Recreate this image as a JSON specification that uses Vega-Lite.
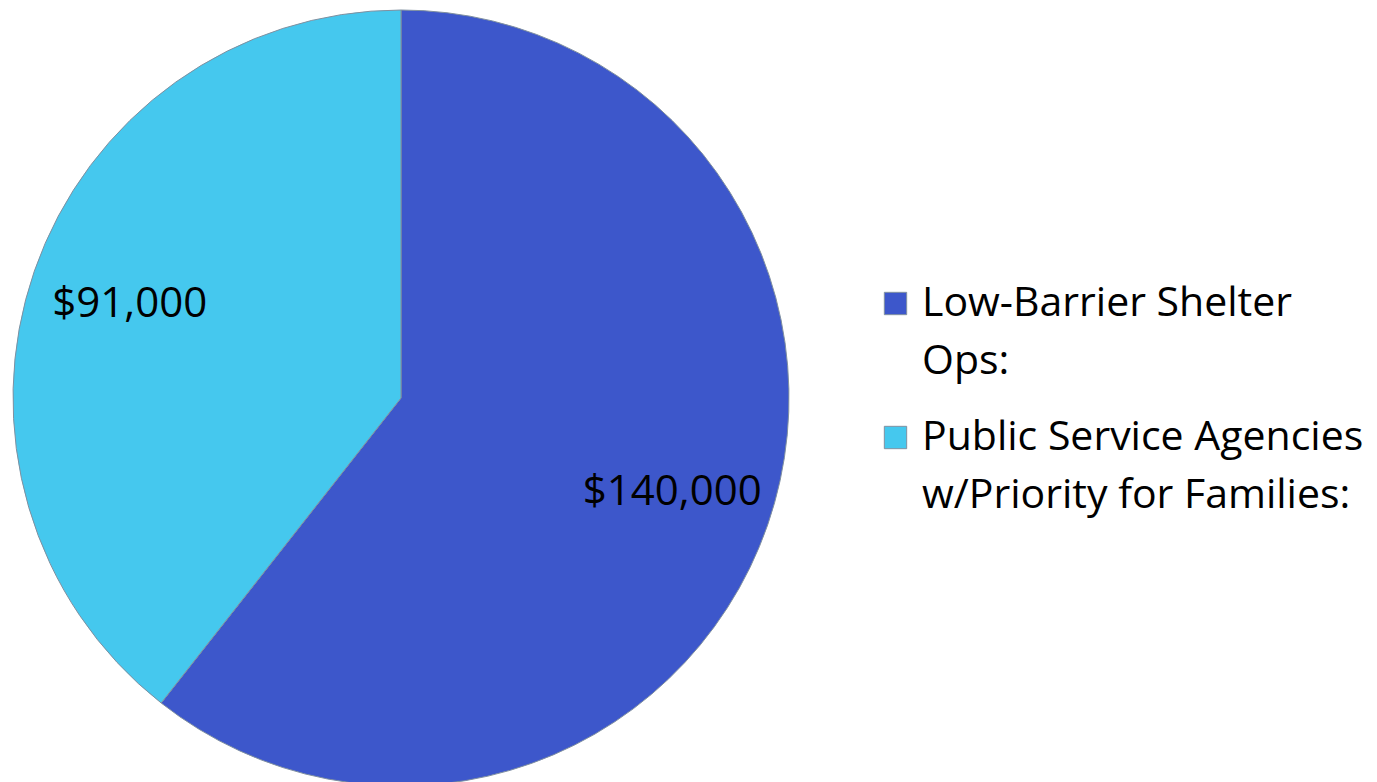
{
  "$schema": "https://vega.github.io/schema/vega-lite/v6.json",
  "width": 802,
  "height": 796,
  "autosize": {"type": "none"},
  "padding": {"left": 0, "top": 0, "right": 575, "bottom": 0},
  "background": "white",
  "config": {
    "view": {"stroke": null},
    "font": "Open Sans",
    "style": {"guide-label": {"lineHeight": 58}}
  },
  "data": {
    "values": [
      {"category": "Low-Barrier Shelter Ops:", "amount": 140000, "label": "$140,000"},
      {"category": "Public Service Agencies w/Priority for Families:", "amount": 91000, "label": "$91,000"}
    ]
  },
  "encoding": {
    "theta": {"field": "amount", "type": "quantitative", "stack": true},
    "color": {
      "field": "category",
      "type": "nominal",
      "sort": ["Low-Barrier Shelter Ops:", "Public Service Agencies w/Priority for Families:"],
      "scale": {
        "domain": ["Low-Barrier Shelter Ops:", "Public Service Agencies w/Priority for Families:"],
        "range": ["#3D57CB", "#45C8EE"]
      },
      "legend": {
        "orient": "none",
        "legendX": 875,
        "legendY": 283,
        "title": null,
        "symbolType": "square",
        "symbolSize": 500,
        "symbolStrokeWidth": 1,
        "labelFont": "Open Sans",
        "labelFontSize": 41,
        "labelColor": "black",
        "labelLimit": 600,
        "labelOffset": 6,
        "rowPadding": 34,
        "labelExpr": "datum.label == 'Low-Barrier Shelter Ops:' ? ['Low-Barrier Shelter', 'Ops:'] : ['Public Service Agencies', 'w/Priority for Families:']"
      }
    },
    "order": {"field": "category", "sort": "ascending"}
  },
  "layer": [
    {"mark": {"type": "arc", "radius": 388, "stroke": "#8090a0", "strokeWidth": 1}},
    {
      "mark": {"type": "text", "radius": 287, "fontSize": 42, "font": "Open Sans", "color": "black"},
      "encoding": {"text": {"field": "label"}, "color": {"value": "black"}}
    }
  ]
}
